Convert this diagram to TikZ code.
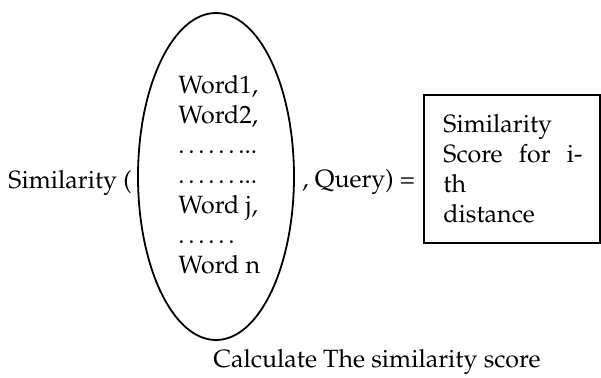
\documentclass[tikz,border=0pt]{standalone}
\usepackage[T1]{fontenc}
\usepackage{mathpazo}
\usetikzlibrary{shapes.geometric}

\begin{document}
\begin{tikzpicture}[x=0.5pt, y=-0.5pt,
          textnode/.style={anchor=base west, inner sep=0pt, align=left, font=\fontsize{12.5}{15}\selectfont}]
          % A set and a box style
          \tikzstyle{setnode} = [draw, ellipse, line width=0.9pt, minimum width=78pt, minimum height=163.5pt, inner sep=0pt]
          \tikzstyle{boxnode} = [draw, rectangle, line width=0.9pt, minimum width=88pt, minimum height=74pt, inner sep=0pt]

          \useasboundingbox (0,0) rectangle (601,377);

          % The word set and the result box
          \node (WordSet)  [setnode] at (216,176.5) {};
          \node (ScoreBox) [boxnode] at (512,169) {};

          % Texts (placed by the baseline of their last line)
          \node (Sim)   [textnode] at (8,188) {Similarity (};
          \node (Words) [textnode] at (178,273) {Word1,\\Word2,\\\textellipsis\textellipsis...\\\textellipsis\textellipsis...\\Word j,\\\textellipsis\textellipsis\\Word n};
          \node (Query) [textnode] at (302,187) {, Query) =};
          \node (Score) [textnode] at (443,222) {Similarity\\\makebox[69.5pt][s]{Score for i-}\\th\\distance};
          \node (Calc)  [textnode] at (213,367) {Calculate The similarity score};

          \end{tikzpicture}
\end{document}
